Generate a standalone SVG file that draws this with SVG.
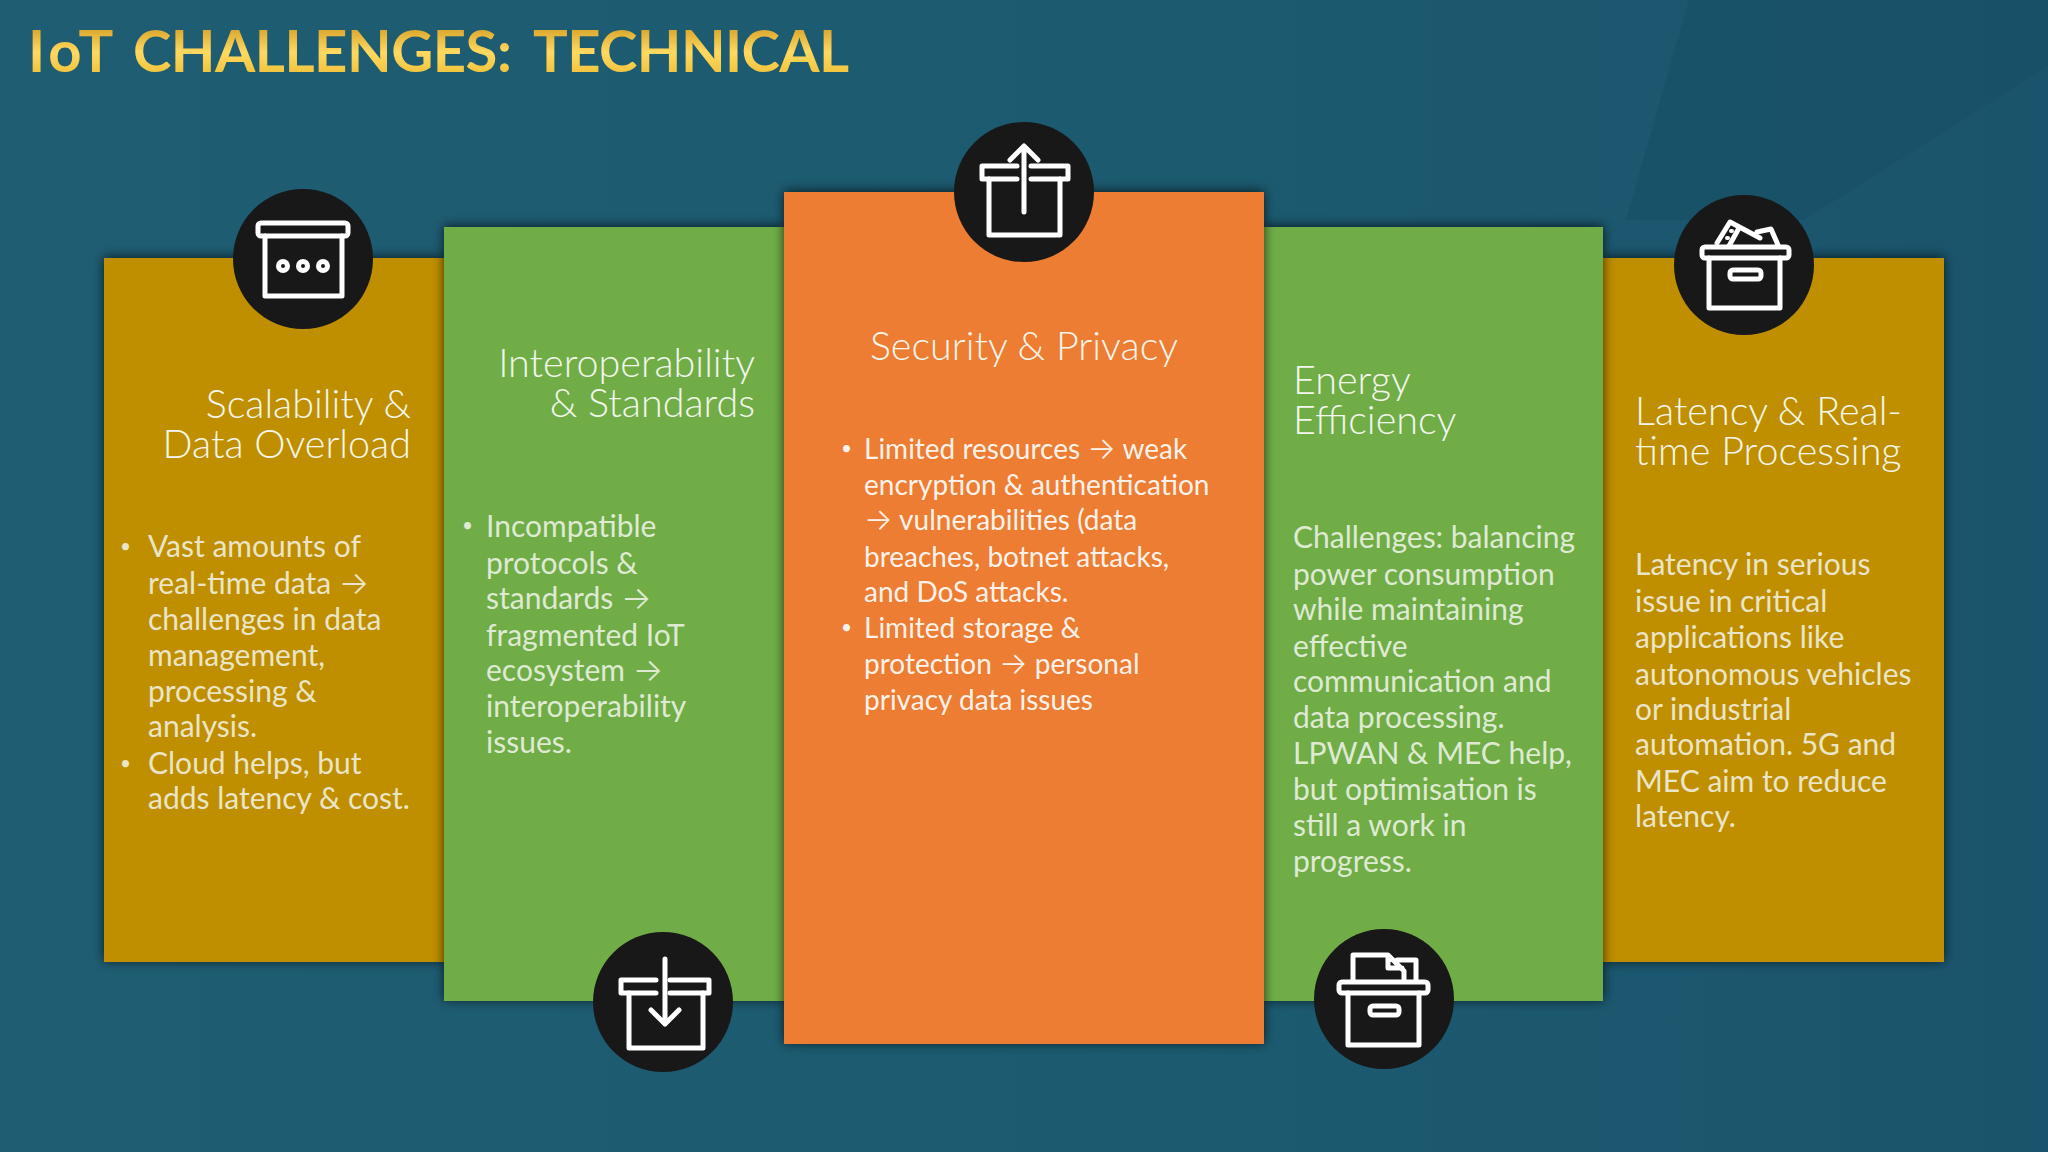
<svg xmlns="http://www.w3.org/2000/svg" width="2048" height="1152" viewBox="0 0 2048 1152">
<defs>
<linearGradient id="bg" x1="0" y1="0" x2="1" y2="0"><stop offset="0" stop-color="#1f5d73"/><stop offset="0.6" stop-color="#1c5a70"/><stop offset="1" stop-color="#1a546c"/></linearGradient>
<linearGradient id="tg" gradientUnits="userSpaceOnUse" x1="0" y1="28" x2="0" y2="72"><stop offset="0" stop-color="#d9a52c"/><stop offset="0.55" stop-color="#ffd960"/><stop offset="1" stop-color="#f2c53f"/></linearGradient>
<filter id="sh" x="-10%" y="-10%" width="120%" height="120%"><feDropShadow dx="0" dy="-1" stdDeviation="6" flood-color="#000" flood-opacity="0.7"/></filter>
</defs>
<style>
.h{font-family:"Lato","Liberation Sans",sans-serif;font-size:39.5px;font-weight:300;fill:#f3f6ec}
.b{font-family:"Lato","Liberation Sans",sans-serif;font-size:30px;font-weight:400;fill:#f4f6ee;fill-opacity:.85}
.o{fill:#fff;fill-opacity:.93;font-size:28px}
.a{font-family:"Inter",sans-serif;font-weight:300;font-size:32px}
.o .a{font-size:30px}
.u{font-size:19px}
.c{fill:#181818}
.i{fill:none;stroke:#fff;stroke-width:5;stroke-linejoin:round;stroke-linecap:round}
</style>
<rect width="2048" height="1152" fill="url(#bg)"/>
<polygon points="1689,0 2048,0 2048,66 1804,220 1626,220" fill="#134a60" opacity="0.3"/>
<text y="72" font-family="Lato,'Liberation Sans',sans-serif" font-weight="700" font-size="58" fill="url(#tg)"><tspan x="28" letter-spacing="4">IoT</tspan> <tspan x="133" letter-spacing="-0.5">CHALLENGES:</tspan> <tspan x="533" letter-spacing="-0.6">TECHNICAL</tspan></text>

<g id="card-scalability">
<rect x="104" y="258" width="340" height="704" fill="#bf8f00" filter="url(#sh)"/>
<text class="h" text-anchor="end" x="411" y="418">Scalability &amp;</text>
<text class="h" text-anchor="end" x="411" y="458">Data Overload</text>
<text class="b u" x="120" y="553">•</text>
<text class="b"><tspan x="148" y="557">Vast amounts of</tspan><tspan x="148" y="594">real-time data <tspan class="a">→</tspan></tspan><tspan x="148" y="630">challenges in data</tspan><tspan x="148" y="666">management,</tspan><tspan x="148" y="702">processing &amp;</tspan><tspan x="148" y="737">analysis.</tspan><tspan x="148" y="774">Cloud helps, but</tspan><tspan x="148" y="809">adds latency &amp; cost.</tspan></text>
<text class="b u" x="120" y="770">•</text>
</g>
<g id="card-latency">
<rect x="1603" y="258" width="341" height="704" fill="#bf8f00" filter="url(#sh)"/>
<text class="h"><tspan x="1635" y="425">Latency &amp; Real-</tspan><tspan x="1635" y="465">time Processing</tspan></text>
<text class="b"><tspan x="1635" y="575">Latency in serious</tspan><tspan x="1635" y="612">issue in critical</tspan><tspan x="1635" y="648">applications like</tspan><tspan x="1635" y="685">autonomous vehicles</tspan><tspan x="1635" y="720">or industrial</tspan><tspan x="1635" y="755">automation. 5G and</tspan><tspan x="1635" y="792">MEC aim to reduce</tspan><tspan x="1635" y="827">latency.</tspan></text>
</g>
<g id="card-interoperability">
<rect x="444" y="227" width="340" height="774" fill="#70ad47" filter="url(#sh)"/>
<text class="h" text-anchor="end" x="755" y="377">Interoperability</text>
<text class="h" text-anchor="end" x="755" y="417">&amp; Standards</text>
<text class="b u" x="462" y="532">•</text>
<text class="b"><tspan x="486" y="537">Incompatible</tspan><tspan x="486" y="574">protocols &amp;</tspan><tspan x="486" y="609">standards <tspan class="a">→</tspan></tspan><tspan x="486" y="646">fragmented IoT</tspan><tspan x="486" y="681">ecosystem <tspan class="a">→</tspan></tspan><tspan x="486" y="717">interoperability</tspan><tspan x="486" y="753">issues.</tspan></text>
</g>
<g id="card-energy">
<rect x="1264" y="227" width="339" height="774" fill="#70ad47" filter="url(#sh)"/>
<text class="h"><tspan x="1293" y="394">Energy</tspan><tspan x="1293" y="434">Efficiency</tspan></text>
<text class="b"><tspan x="1293" y="548">Challenges: balancing</tspan><tspan x="1293" y="585">power consumption</tspan><tspan x="1293" y="620">while maintaining</tspan><tspan x="1293" y="657">effective</tspan><tspan x="1293" y="692">communication and</tspan><tspan x="1293" y="728">data processing.</tspan><tspan x="1293" y="764">LPWAN &amp; MEC help,</tspan><tspan x="1293" y="800">but optimisation is</tspan><tspan x="1293" y="836">still a work in</tspan><tspan x="1293" y="872">progress.</tspan></text>
</g>
<g id="card-security">
<rect x="784" y="192" width="480" height="852" fill="#ed7d31" filter="url(#sh)"/>
<text class="h" text-anchor="middle" x="1024" y="360">Security &amp; Privacy</text>
<text class="b o u" x="841" y="455">•</text>
<text class="b o"><tspan x="864" y="459">Limited resources <tspan class="a">→</tspan> weak</tspan><tspan x="864" y="495">encryption &amp; authentication</tspan><tspan x="864" y="530"><tspan class="a">→</tspan> vulnerabilities (data</tspan><tspan x="864" y="567">breaches, botnet attacks,</tspan><tspan x="864" y="602">and DoS attacks.</tspan><tspan x="864" y="638">Limited storage &amp;</tspan><tspan x="864" y="674">protection <tspan class="a">→</tspan> personal</tspan><tspan x="864" y="710">privacy data issues</tspan></text>
<text class="b o u" x="841" y="634">•</text>
</g>

<g id="icon-scalability">
<circle class="c" cx="303" cy="259" r="70"/>
<g class="i"><rect x="258" y="223" width="90" height="13" rx="3"/><path d="M265 236V296H342V236"/><circle cx="283" cy="266" r="4.5"/><circle cx="303" cy="266" r="4.5"/><circle cx="323" cy="266" r="4.5"/></g>
</g>
<g id="icon-security">
<circle class="c" cx="1024" cy="192" r="70"/>
<g class="i"><path d="M1017 166H982V179H1017M1031 166H1068V179H1031"/><path d="M989 179V235H1060V179"/><path d="M1024 212V146M1010 160L1024 146L1038 160"/></g>
</g>
<g id="icon-latency">
<circle class="c" cx="1744" cy="265" r="70"/>
<g class="i"><rect x="1702" y="247" width="87" height="11" rx="3"/><path d="M1709 258V308H1780V258"/><rect x="1730" y="270" width="31" height="9" rx="3"/><path d="M1717 243L1730 222L1760 238M1739 228L1729 246M1757 232L1771 229L1778 245"/><path d="M1731 231h1M1727 238h1" stroke-width="4"/></g>
</g>
<g id="icon-interoperability">
<circle class="c" cx="663" cy="1002" r="70"/>
<g class="i"><path d="M656 980H621V993H656M670 980H709V993H670"/><path d="M629 993V1048H703V993"/><path d="M665 959V1024M651 1010L665 1024L679 1010"/></g>
</g>
<g id="icon-energy">
<circle class="c" cx="1384" cy="999" r="70"/>
<g class="i"><rect x="1339" y="982" width="89" height="11" rx="3"/><path d="M1348 993V1045H1419V993"/><rect x="1370" y="1006" width="29" height="9" rx="3"/><path d="M1353 980V955H1388L1404 971V980M1388 956V968H1402M1397 960H1416V980"/></g>
</g>
</svg>
